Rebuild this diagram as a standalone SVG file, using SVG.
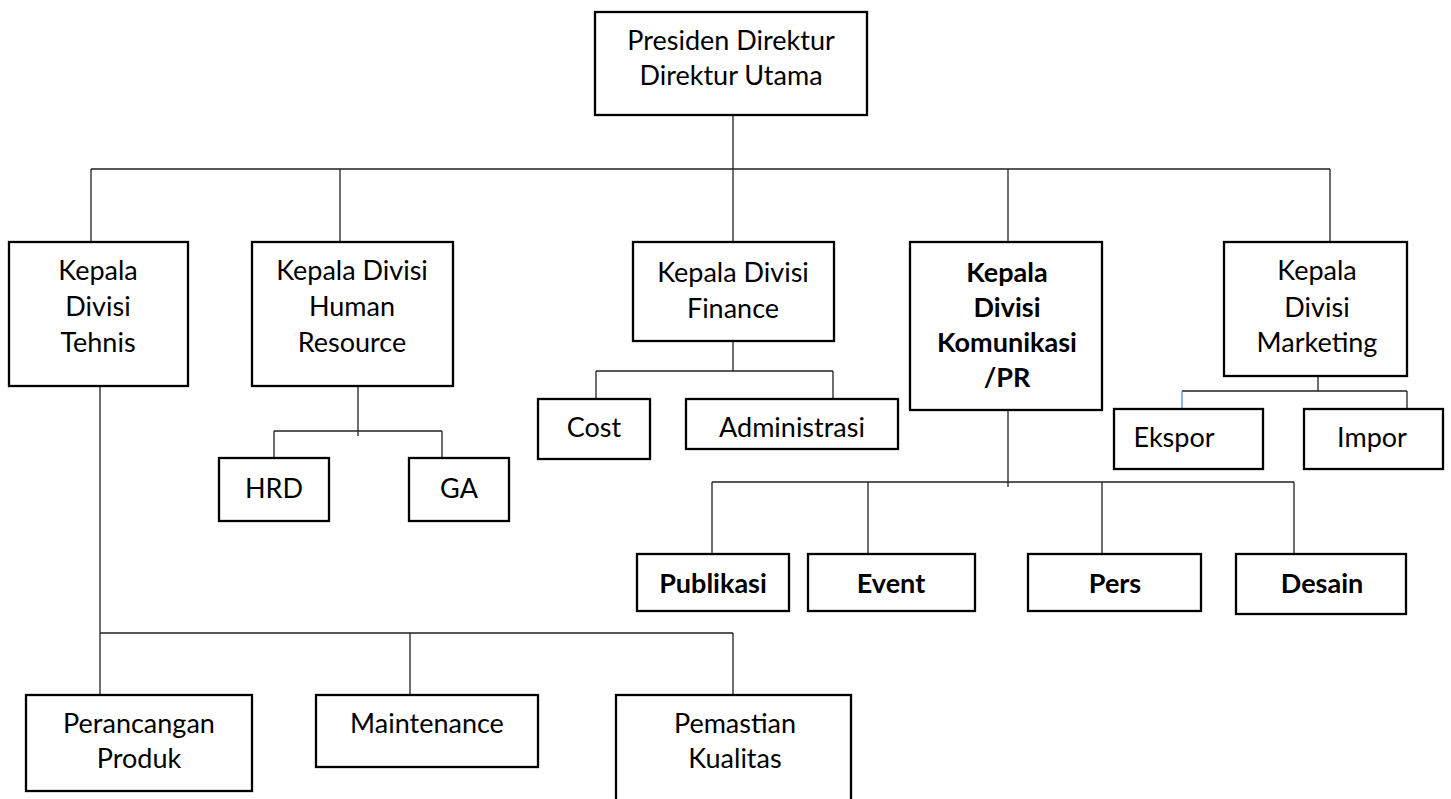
<svg xmlns="http://www.w3.org/2000/svg" width="1451" height="799" viewBox="0 0 1451 799">
<style>
.box{fill:#fff;stroke:#000;stroke-width:2.3}
.t{font-family:Lato,"Open Sans","Liberation Sans",sans-serif;font-size:27px;fill:#000;text-anchor:middle}
.b{font-weight:bold}
.c{fill:none;stroke:#222;stroke-width:1.3}
</style>
<rect width="1451" height="799" fill="#fff"/>
<g id="connectors">
<path class="c" d="M733 115V169M91 169H1330M91 169V242M340 169V242M733 169V242M1008 169V242M1330 169V242"/>
<path class="c" d="M100 380V695M100 633H733M410 633V695M733 633V695"/>
<path class="c" d="M358 380V436M274 431H442M274 431V458M442 431V458"/>
<path class="c" d="M733 337V371M596 371H833M596 371V399M833 371V399"/>
<path class="c" d="M1008 400V487M712 482H1294M712 482V554M868 482V554M1102 482V554M1294 482V554"/>
<path class="c" d="M1318 370V391M1182 391H1407M1407 391V409"/>
<path d="M1182 391V409" fill="none" stroke="#4a8fd8" stroke-width="1.3"/>
</g>
<g id="presiden"><rect class="box" x="595" y="12" width="272" height="103"/><text class="t" x="731" y="50">Presiden Direktur</text><text class="t" x="731" y="85">Direktur Utama</text></g>
<g id="tehnis"><rect class="box" x="9" y="242" width="179" height="144"/><text class="t" x="98" y="280">Kepala</text><text class="t" x="98" y="316">Divisi</text><text class="t" x="98" y="352">Tehnis</text></g>
<g id="hr"><rect class="box" x="252" y="242" width="201" height="144"/><text class="t" x="352" y="280">Kepala Divisi</text><text class="t" x="352" y="316">Human</text><text class="t" x="352" y="352">Resource</text></g>
<g id="finance"><rect class="box" x="633" y="242" width="201" height="99"/><text class="t" x="733" y="282">Kepala Divisi</text><text class="t" x="733" y="318">Finance</text></g>
<g id="komunikasi"><rect class="box" x="910" y="242" width="192" height="168"/><text class="t b" x="1007" y="282">Kepala</text><text class="t b" x="1007" y="317">Divisi</text><text class="t b" x="1007" y="352">Komunikasi</text><text class="t b" x="1007" y="387">/PR</text></g>
<g id="marketing"><rect class="box" x="1224" y="242" width="183" height="134"/><text class="t" x="1317" y="280">Kepala</text><text class="t" x="1317" y="317">Divisi</text><text class="t" x="1317" y="352">Marketing</text></g>
<g id="hrd"><rect class="box" x="219" y="458" width="110" height="63"/><text class="t" x="274" y="498">HRD</text></g>
<g id="ga"><rect class="box" x="409" y="458" width="100" height="63"/><text class="t" x="459" y="498">GA</text></g>
<g id="cost"><rect class="box" x="538" y="399" width="112" height="60"/><text class="t" x="594" y="437">Cost</text></g>
<g id="administrasi"><rect class="box" x="686" y="399" width="212" height="50"/><text class="t" x="792" y="437">Administrasi</text></g>
<g id="ekspor"><rect class="box" x="1114" y="409" width="149" height="60"/><text class="t" x="1174" y="447">Ekspor</text></g>
<g id="impor"><rect class="box" x="1304" y="409" width="139" height="60"/><text class="t" x="1372" y="447">Impor</text></g>
<g id="publikasi"><rect class="box" x="637" y="554" width="152" height="57"/><text class="t b" x="713" y="593">Publikasi</text></g>
<g id="event"><rect class="box" x="808" y="554" width="167" height="57"/><text class="t b" x="891" y="593">Event</text></g>
<g id="pers"><rect class="box" x="1028" y="554" width="173" height="57"/><text class="t b" x="1115" y="593">Pers</text></g>
<g id="desain"><rect class="box" x="1236" y="554" width="170" height="60"/><text class="t b" x="1322" y="593">Desain</text></g>
<g id="perancangan"><rect class="box" x="26" y="695" width="226" height="96"/><text class="t" x="139" y="733">Perancangan</text><text class="t" x="139" y="768">Produk</text></g>
<g id="maintenance"><rect class="box" x="316" y="695" width="222" height="72"/><text class="t" x="427" y="733">Maintenance</text></g>
<g id="pemastian"><rect class="box" x="616" y="695" width="235" height="120"/><text class="t" x="735" y="733">Pemastian</text><text class="t" x="735" y="768">Kualitas</text></g>
</svg>
